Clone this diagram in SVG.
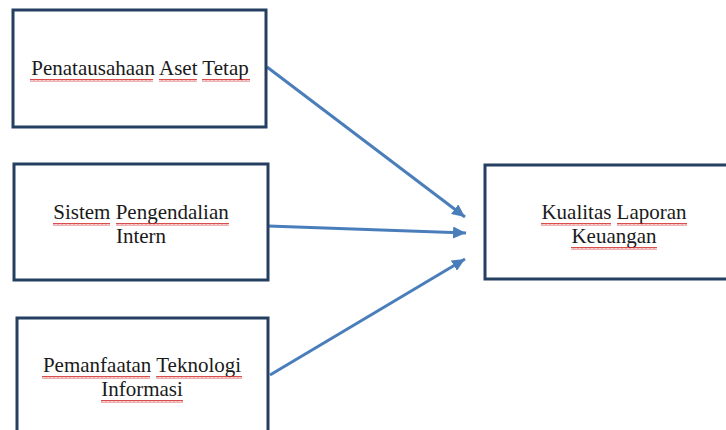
<svg xmlns="http://www.w3.org/2000/svg" width="726" height="430" viewBox="0 0 726 430">
  <style>
    .box { fill: #ffffff; stroke: #243f60; stroke-width: 3; }
    .lbl { font-family: "Liberation Serif", "Times New Roman", serif; font-size: 21px; fill: #1a1a1a; text-anchor: middle; }
    .conn { stroke: #4a7ebb; stroke-width: 3; fill: none; marker-end: url(#arrow); }
    .sq { fill: url(#wavy); }
  </style>
  <defs>
    <marker id="arrow" markerUnits="userSpaceOnUse" markerWidth="14" markerHeight="12" refX="13" refY="6" orient="auto">
      <path d="M0,0 L13,6 L0,12 Z" fill="#4a7ebb"/>
    </marker>
    <pattern id="wavy" width="4" height="3" patternUnits="userSpaceOnUse">
      <path d="M0,2.5 L1,0.5 L2,2.5 L3,0.5 L4,2.5" fill="none" stroke="#d02020" stroke-width="0.8"/>
    </pattern>
  </defs>
  <rect width="726" height="430" fill="#ffffff"/>

  <g id="connectors">
    <path class="conn" d="M267,67 L465,217"/>
    <path class="conn" d="M268,226 L466,233"/>
    <path class="conn" d="M270,375 L465,259"/>
  </g>

  <g id="node-aset">
    <rect class="box" x="13" y="10" width="253" height="117"/>
    <text class="lbl" x="140" y="75">Penatausahaan Aset Tetap</text>
    <rect class="sq" x="30" y="79" width="123" height="3"/>
    <rect class="sq" x="159" y="79" width="38" height="3"/>
    <rect class="sq" x="202" y="79" width="48" height="3"/>
  </g>

  <g id="node-spi">
    <rect class="box" x="14" y="164" width="254" height="116"/>
    <text class="lbl" x="141" y="219">Sistem Pengendalian</text>
    <text class="lbl" x="141" y="243">Intern</text>
    <rect class="sq" x="53" y="223" width="57" height="3"/>
    <rect class="sq" x="116" y="223" width="113" height="3"/>
  </g>

  <g id="node-ti">
    <rect class="box" x="17" y="318" width="251" height="130"/>
    <text class="lbl" x="142" y="372">Pemanfaatan Teknologi</text>
    <text class="lbl" x="142" y="396">Informasi</text>
    <rect class="sq" x="42" y="376" width="108" height="3"/>
    <rect class="sq" x="156" y="376" width="86" height="3"/>
    <rect class="sq" x="101" y="400" width="82" height="3"/>
  </g>

  <g id="node-klk">
    <rect class="box" x="485" y="165" width="260" height="114"/>
    <text class="lbl" x="614" y="219">Kualitas Laporan</text>
    <text class="lbl" x="614" y="243">Keuangan</text>
    <rect class="sq" x="541" y="223" width="70" height="3"/>
    <rect class="sq" x="617" y="223" width="70" height="3"/>
    <rect class="sq" x="571" y="247" width="86" height="3"/>
  </g>
</svg>
